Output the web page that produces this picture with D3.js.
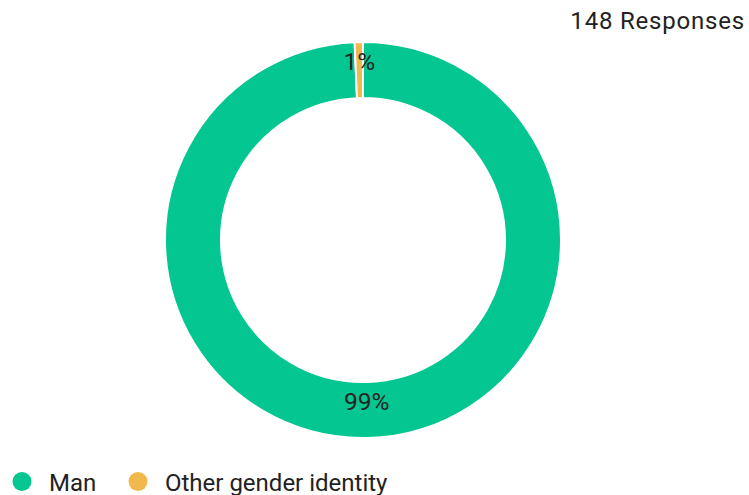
<html>
  <head>
    <script src="https://d3js.org/d3.v7.min.js"></script>
    <style>
      body { margin: 0; background: #fff; }
      text { font-family: Roboto, "Noto Sans", sans-serif; fill: #222; }
    </style>
  </head>
  <body>
    <svg id="chart" width="749" height="495"></svg>
    <script>
      const categories = ["Man", "Other gender identity"];
      const counts = [147, 1];
      const percentLabels = ["99%", "1%"];
      const colors = ["#04c690", "#efb94d"];
      const totalLabel = "148 Responses";

      const svg = d3.select("#chart");
      const cx = 363, cy = 240;
      const outerR = 198, innerR = 142;

      const data = categories.map((c, i) => ({ name: c, value: counts[i], label: percentLabels[i], color: colors[i] }));

      const pie = d3.pie().sort(null).value((d) => d.value);
      const arc = d3.arc().innerRadius(innerR).outerRadius(outerR);
      const labelArc = d3.arc().innerRadius(170).outerRadius(170);

      const g = svg.append("g").attr("transform", `translate(${cx}, ${cy})`);

      const arcs = pie(data);
      g.selectAll("path")
        .data(arcs)
        .enter()
        .append("path")
        .attr("d", arc)
        .attr("fill", (d) => d.data.color)
        .attr("stroke", "#fff")
        .attr("stroke-width", 2);

      g.selectAll("text.lbl")
        .data(arcs)
        .enter()
        .append("text")
        .attr("class", "lbl")
        .attr("x", (d) => labelArc.centroid(d)[0])
        .attr("y", (d) => labelArc.centroid(d)[1])
        .attr("text-anchor", "middle")
        .style("font-size", "24.5px")
        .text((d) => d.data.label);

      svg.append("text")
        .attr("x", 745)
        .attr("y", 29)
        .attr("text-anchor", "end")
        .style("font-size", "24px")
        .style("letter-spacing", "0.8px")
        .text(totalLabel);

      // legend
      const legendX = [22, 138];
      const legend = svg.selectAll("g.legend")
        .data(data)
        .enter()
        .append("g")
        .attr("class", "legend")
        .attr("transform", (d, i) => `translate(${legendX[i]}, 481.5)`);
      legend.append("circle").attr("r", 9.5).attr("fill", (d) => d.color);
      legend.append("text")
        .attr("x", 27)
        .attr("y", 9)
        .style("font-size", "24px")
        .text((d) => d.name);
    </script>
  </body>
</html>
